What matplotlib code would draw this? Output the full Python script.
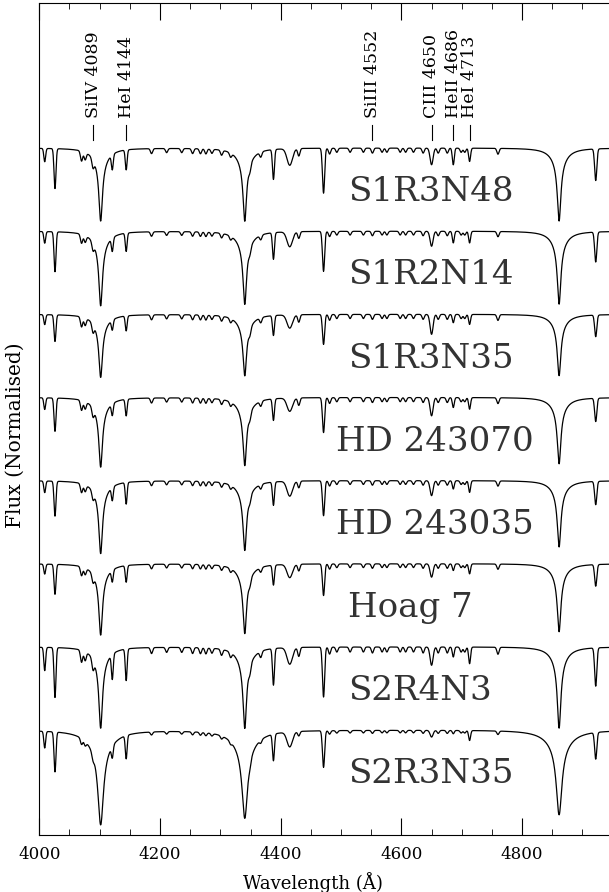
import numpy as np
import matplotlib.pyplot as plt
from matplotlib.ticker import MultipleLocator

plt.rcParams['font.family'] = ['DejaVu Serif']

# stars, top to bottom
stars = ["S1R3N48", "S1R2N14", "S1R3N35", "HD 243070", "HD 243035",
         "Hoag 7", "S2R4N3", "S2R3N35"]
label_wave = [4511, 4511, 4511, 4492, 4492, 4511, 4511, 4511]
offset = 0.5

# Balmer lines: H delta, H gamma, H beta
balmer_centres = [4101.7, 4340.5, 4861.3]
balmer_depth = [
    [0.44, 0.44, 0.44],
    [0.45, 0.44, 0.44],
    [0.38, 0.37, 0.37],
    [0.42, 0.41, 0.40],
    [0.44, 0.42, 0.40],
    [0.43, 0.42, 0.41],
    [0.49, 0.49, 0.49],
    [0.57, 0.53, 0.51],
]
balmer_hwhm = [3.5, 3.5, 3.5, 3.5, 3.5, 3.5, 3.5, 5.5]

# helium and strong metal lines
line_centres = [4009, 4026, 4121, 4144, 4388, 4415, 4471, 4650, 4686, 4713, 4922]
line_sigma = [1.5, 1.6, 1.5, 1.5, 1.6, 4.5, 1.8, 2.5, 1.6, 1.6, 1.8]
line_depth = [
    [0.08, 0.24, 0.09, 0.12, 0.18, 0.10, 0.27, 0.10, 0.10, 0.08, 0.19],
    [0.07, 0.24, 0.08, 0.11, 0.16, 0.09, 0.24, 0.09, 0.07, 0.07, 0.18],
    [0.06, 0.16, 0.06, 0.09, 0.12, 0.08, 0.18, 0.12, 0.05, 0.06, 0.13],
    [0.07, 0.20, 0.07, 0.10, 0.13, 0.08, 0.21, 0.11, 0.06, 0.07, 0.14],
    [0.07, 0.21, 0.08, 0.13, 0.14, 0.09, 0.21, 0.09, 0.05, 0.07, 0.14],
    [0.06, 0.18, 0.07, 0.10, 0.12, 0.08, 0.19, 0.08, 0.04, 0.06, 0.13],
    [0.14, 0.30, 0.15, 0.19, 0.22, 0.10, 0.30, 0.11, 0.06, 0.10, 0.23],
    [0.10, 0.24, 0.07, 0.14, 0.16, 0.09, 0.22, 0.04, 0.02, 0.06, 0.16],
]

# weak metal lines, scaled per star
metal_centres = [4070, 4076, 4089, 4186, 4211, 4236, 4254, 4267, 4276, 4286,
                 4302, 4317, 4349, 4367, 4430, 4481, 4493, 4515, 4537, 4552,
                 4568, 4576, 4598, 4607, 4620, 4636, 4661, 4676, 4699, 4705, 4760]
metal_depth = [0.06, 0.045, 0.05, 0.03, 0.025, 0.025, 0.03, 0.03, 0.03, 0.025,
               0.03, 0.025, 0.035, 0.03, 0.045, 0.035, 0.025, 0.025, 0.025, 0.03,
               0.025, 0.025, 0.025, 0.025, 0.025, 0.03, 0.03, 0.03, 0.025, 0.025, 0.035]
metal_scale = [1.0, 0.9, 1.0, 1.0, 0.9, 0.9, 1.2, 0.6]

# line identifications along the top
ident_wave = [4089, 4144, 4552, 4650, 4686, 4713]
ident_text = ["SiIV 4089", "HeI 4144", "SiIII 4552", "CIII 4650", "HeII 4686", "HeI 4713"]


def gauss(w, c, s):
    return np.exp(-0.5 * ((w - c) / s) ** 2)


def lorentz(w, c, g):
    return 1.0 / (1.0 + ((w - c) / g) ** 2)


def spectrum(i, w):
    f = np.ones_like(w)
    for c, d in zip(balmer_centres, balmer_depth[i]):
        g = balmer_hwhm[i]
        f -= 0.8 * d * lorentz(w, c, g) + 0.2 * d * lorentz(w, c, 4 * g)
    for c, s, d in zip(line_centres, line_sigma, line_depth[i]):
        f -= d * gauss(w, c, s)
    for c, d in zip(metal_centres, metal_depth):
        f -= metal_scale[i] * d * gauss(w, c, 1.8)
    return f


wave = np.arange(3995, 4965.5, 0.5)
n = len(stars)

fig = plt.figure(figsize=(6.09, 8.92), dpi=100)
ax = fig.add_axes([39.3 / 609, 57 / 892, 0.6035 * 960 / 609, 832 / 892])

for i, name in enumerate(stars):
    base = (n - 1 - i) * offset
    ax.plot(wave, spectrum(i, wave) + base, color='black', lw=0.9)
    ax.text(label_wave[i], 1 + base - 0.32, name, fontsize=24.5, color='0.2',
            ha='left', va='baseline')

top = 1 + (n - 1) * offset
for w, t in zip(ident_wave, ident_text):
    ax.plot([w, w], [top + 0.048, top + 0.138], color='black', lw=0.8)
    ax.text(w, top + 0.18, t, rotation=90, ha='center', va='bottom', fontsize=12.5)

ax.set_xlim(4000, 4960)
ax.set_ylim(0.3686, 5.372)
ax.xaxis.set_major_locator(MultipleLocator(200))
ax.xaxis.set_minor_locator(MultipleLocator(50))
ax.tick_params(axis='x', which='both', direction='in', top=True, labelsize=12, pad=8)
ax.tick_params(axis='x', which='major', length=12)
ax.tick_params(axis='x', which='minor', length=4.3)
ax.set_yticks([])
ax.set_xlabel('Wavelength (Å)', fontsize=13, labelpad=5)
ax.xaxis.set_label_coords(0.4724, -0.045)
ax.set_ylabel('Flux (Normalised)', fontsize=14.5)
ax.yaxis.set_label_coords(-0.0247, 0.481)

fig.savefig('out.png', dpi=100)
